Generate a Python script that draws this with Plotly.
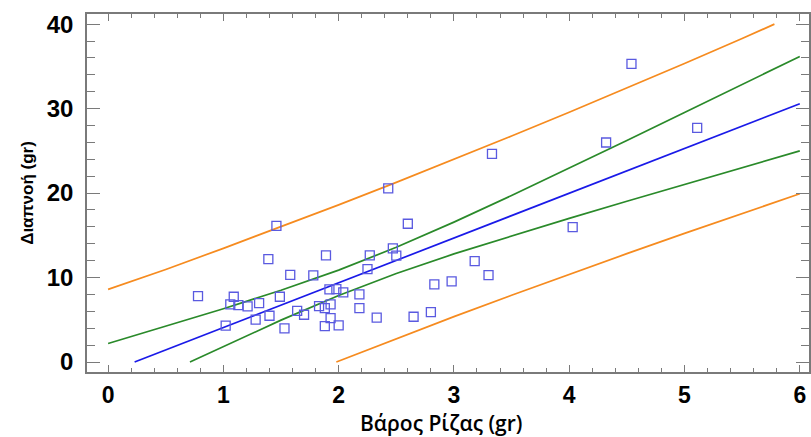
import plotly.graph_objects as go

# Scatter data
root_weight = [0.78, 1.02, 1.09, 1.06, 1.13, 1.21, 1.31, 1.28, 1.40, 1.39, 1.49, 1.46, 1.53,
               1.58, 1.64, 1.70, 1.78, 1.83, 1.88, 1.93, 1.89, 1.92, 1.98, 2.04, 2.18, 2.18,
               1.93, 1.88, 2.00, 2.25, 2.27, 2.33, 2.47, 2.50, 2.43, 2.60, 2.65, 2.80, 2.83,
               2.98, 3.18, 3.30, 3.33, 4.03, 4.32, 4.54, 5.11]
transpiration = [7.81, 4.30, 7.73, 6.82, 6.74, 6.58, 6.98, 5.01, 5.48, 12.19, 7.73, 16.13, 3.98,
                 10.31, 6.05, 5.60, 10.25, 6.63, 6.39, 6.82, 12.62, 8.59, 8.64, 8.24, 8.00, 6.39,
                 5.20, 4.26, 4.33, 11.00, 12.62, 5.26, 13.45, 12.60, 20.55, 16.37, 5.36, 5.91, 9.19,
                 9.54, 11.95, 10.29, 24.65, 15.98, 25.99, 35.30, 27.73]

# Regression line
fit_x = [0.23, 1, 2, 3, 4, 5, 6]
fit_y = [0, 4.08, 9.38, 14.68, 19.98, 25.28, 30.58]

# Confidence band
conf_up_x = [0, 0.5, 1, 1.5, 2, 2.5, 3, 3.5, 4, 4.5, 5, 5.5, 6]
conf_up_y = [2.2, 4.23, 6.31, 8.5, 10.88, 13.58, 16.56, 19.71, 22.95, 26.23, 29.53, 32.85, 36.18]
conf_lo_x = [0.71, 1, 1.5, 2, 2.5, 3, 3.5, 4, 4.5, 5, 5.5, 6]
conf_lo_y = [0, 1.85, 4.96, 7.88, 10.48, 12.8, 14.95, 17.01, 19.03, 21.03, 23.01, 25.0]

# Prediction band
pred_up_x = [0, 0.5, 1, 1.5, 2, 2.5, 3, 3.5, 4, 4.5, 5, 5.5, 5.78]
pred_up_y = [8.6, 10.96, 13.46, 16.01, 18.61, 21.27, 23.98, 26.75, 29.56, 32.43, 35.33, 38.29, 40]
pred_lo_x = [1.98, 2.5, 3, 3.5, 4, 4.5, 5, 5.5, 6]
pred_lo_y = [0, 2.79, 5.38, 7.91, 10.4, 12.83, 15.23, 17.57, 19.92]

x_ticks = [0, 1, 2, 3, 4, 5, 6]
y_ticks = [0, 10, 20, 30, 40]
x_title = "Βάρος Ρίζας (gr)"
y_title = "Διαπνοή (gr)"

ORANGE = "#f68b1f"
GREEN = "#2a8a2a"
BLUE = "#1a1ae8"
MARK = "#5a5ae0"

fig = go.Figure()
for xs, ys, c in [(pred_up_x, pred_up_y, ORANGE), (pred_lo_x, pred_lo_y, ORANGE),
                  (conf_up_x, conf_up_y, GREEN), (conf_lo_x, conf_lo_y, GREEN),
                  (fit_x, fit_y, BLUE)]:
    fig.add_trace(go.Scatter(x=xs, y=ys, mode="lines", line=dict(color=c, width=1.7),
                             showlegend=False, hoverinfo="skip"))

fig.add_trace(go.Scatter(x=root_weight, y=transpiration, mode="markers",
                         marker=dict(symbol="square-open", size=9,
                                     line=dict(color=MARK, width=1.3), color=MARK),
                         showlegend=False))

axis_common = dict(showgrid=False, zeroline=False, showline=True, linecolor="#7a7a7a",
                   linewidth=1.5, ticks="inside", tickcolor="#7a7a7a", tickwidth=1.3,
                   mirror="allticks")
bold_ticks = dict(family="Liberation Sans, Arial", color="black", weight="bold")

fig.update_xaxes(**axis_common, range=[-0.183, 6.08], tickvals=x_ticks, ticklen=7,
                 tickfont=dict(**bold_ticks, size=23),
                 minor=dict(dtick=0.2, ticks="inside", ticklen=4, tickcolor="#7a7a7a",
                            tickwidth=1.2, showgrid=False),
                 ticklabelstandoff=2)
fig.update_yaxes(**axis_common, range=[-1.18, 41.2], tickvals=y_ticks, ticklen=13,
                 tickfont=dict(**bold_ticks, size=24),
                 minor=dict(dtick=2, ticks="inside", ticklen=8, tickcolor="#7a7a7a",
                            tickwidth=1.2, showgrid=False),
                 ticklabelstandoff=7,
                 title=dict(text=y_title, standoff=9,
                            font=dict(family="Liberation Sans, Arial", size=17, color="black",
                                      weight="bold")))

fig.add_annotation(text=x_title, xref="paper", yref="paper", x=0.49, y=-0.142,
                   xanchor="center", yanchor="middle", showarrow=False,
                   font=dict(family="Open Sans, Lato", size=21, color="black", weight=600))

fig.update_layout(width=811, height=437, margin=dict(l=87, r=0, t=14, b=65),
                  plot_bgcolor="white", paper_bgcolor="white")

fig.write_html("out.html")
